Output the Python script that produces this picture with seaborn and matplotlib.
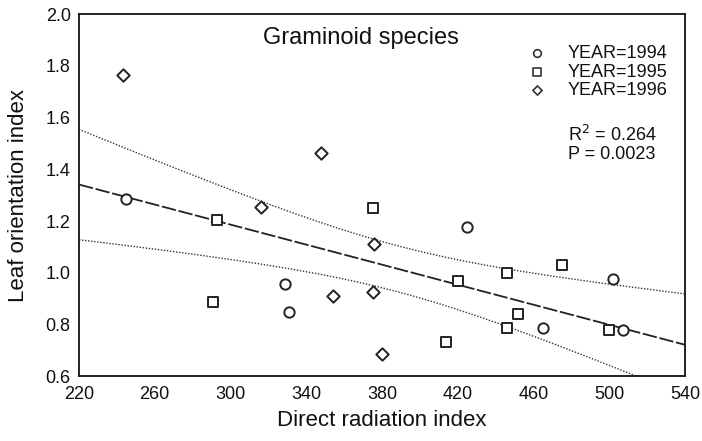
import numpy as np
import pandas as pd
import matplotlib
matplotlib.use("Agg")
import matplotlib.pyplot as plt
import seaborn as sns

# Data
x_1994 = [245, 329, 331, 425, 465, 502, 507]
y_1994 = [1.285, 0.956, 0.848, 1.176, 0.786, 0.975, 0.778]
x_1995 = [293, 291, 375, 420, 446, 475, 452, 446, 414, 500]
y_1995 = [1.203, 0.886, 1.25, 0.967, 0.998, 1.03, 0.84, 0.786, 0.732, 0.778]
x_1996 = [243, 316, 348, 376, 354, 375, 380]
y_1996 = [1.764, 1.254, 1.462, 1.11, 0.909, 0.925, 0.685]

years = ["YEAR=1994", "YEAR=1995", "YEAR=1996"]
r2_text = "R$^2$ = 0.264"
p_text = "P = 0.0023"

df = pd.DataFrame({
    "x": x_1994 + x_1995 + x_1996,
    "y": y_1994 + y_1995 + y_1996,
    "year": [years[0]] * len(x_1994) + [years[1]] * len(x_1995) + [years[2]] * len(x_1996),
})

sns.set_style("white")
plt.rcParams["font.family"] = ["Liberation Sans", "DejaVu Sans"]

fig = plt.figure(figsize=(7.02, 4.41), dpi=100)
ax = fig.add_axes([0.1125, 0.147, 0.8635, 0.821])

# regression and 95% confidence band of the mean
xa = df["x"].to_numpy(float)
ya = df["y"].to_numpy(float)
n = len(xa)
b, a = np.polyfit(xa, ya, 1)
xs = np.linspace(220, 540, 200)
yhat = a + b * xs
resid = ya - (a + b * xa)
s = np.sqrt(np.sum(resid ** 2) / (n - 2))
sxx = np.sum((xa - xa.mean()) ** 2)
tval = 2.052
se = s * np.sqrt(1 / n + (xs - xa.mean()) ** 2 / sxx)
ax.plot(xs, yhat, color="#222222", lw=1.3, dashes=(8, 1.5))
ax.plot(xs, yhat + tval * se, color="#333333", lw=1.0, ls=(0, (1, 1.2)))
ax.plot(xs, yhat - tval * se, color="#333333", lw=1.0, ls=(0, (1, 1.2)))

markers = {years[0]: "o", years[1]: "s", years[2]: "D"}
sizes = {years[0]: 55, years[1]: 60, years[2]: 40}
for yr in years:
    sub = df[df["year"] == yr]
    sns.scatterplot(data=sub, x="x", y="y", marker=markers[yr], s=sizes[yr],
                    facecolor="white", edgecolor="#222222", linewidth=1.4,
                    ax=ax, legend=False, zorder=3)

ax.set_xlim(220, 540)
ax.set_ylim(0.6, 2.0)
ax.set_xticks(np.arange(220, 541, 40))
ax.set_yticks(np.round(np.arange(0.6, 2.01, 0.2), 1))
ax.set_yticklabels([f"{v:.1f}" for v in np.arange(0.6, 2.01, 0.2)])
ax.tick_params(axis="both", labelsize=13, length=3, width=1, direction="in", colors="#111111")
ax.tick_params(axis="x", pad=7)
ax.tick_params(axis="y", pad=6)
for sp in ax.spines.values():
    sp.set_color("#111111")
    sp.set_linewidth(1.3)
ax.set_xlabel("Direct radiation index", fontsize=16, labelpad=5, color="#111111")
ax.set_ylabel("Leaf orientation index", fontsize=16, labelpad=12, color="#111111")

ax.text(369, 1.907, "Graminoid species", fontsize=17, ha="center", va="center", color="#111111")

leg_y = [1.849, 1.776, 1.706]
for yr, yy in zip(years, leg_y):
    ax.scatter([462], [yy], marker=markers[yr], s=sizes[yr] * 0.55, facecolor="white",
               edgecolor="#333333", linewidth=1.2, zorder=3)
    ax.text(478, yy, yr, fontsize=13, va="center", ha="left", color="#111111")
ax.text(478, 1.532, r2_text, fontsize=13, va="center", ha="left", color="#111111")
ax.text(478, 1.458, p_text, fontsize=13, va="center", ha="left", color="#111111")

fig.savefig("out.png", dpi=100)
